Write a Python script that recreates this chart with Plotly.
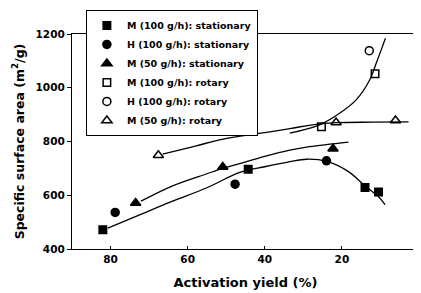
import plotly.graph_objects as go

# ---- data ----
m100_stat_x = [82.0, 44.3, 14.0, 10.5]
m100_stat_y = [472, 697, 629, 612]
h100_stat_x = [78.8, 47.7, 24.0]
h100_stat_y = [536, 641, 728]
m50_stat_x = [73.5, 50.9, 22.3]
m50_stat_y = [571, 705, 773]
m100_rot_x = [25.3, 11.4]
m100_rot_y = [855, 1052]
h100_rot_x = [12.9]
h100_rot_y = [1138]
m50_rot_x = [67.6, 21.5, 6.1]
m50_rot_y = [749, 871, 878]

# fitted curves
fit_low_x = [80.7, 72.0, 63.9, 55.0, 46.5, 40.0, 33.7, 29.2, 23.9, 18.3, 14.0, 10.6, 8.8]
fit_low_y = [478, 530, 578, 628, 685, 706, 724, 734, 726, 688, 635, 596, 565]
fit_mid_x = [72.1, 63.9, 55.0, 50.9, 46.5, 40.0, 33.5, 28.4, 18.3]
fit_mid_y = [578, 635, 680, 700, 718, 745, 768, 781, 798]
fit_rot50_x = [66.5, 58.0, 50.8, 40.0, 33.5, 26.7, 21.5, 12.0, 2.7]
fit_rot50_y = [753, 783, 809, 833, 848, 864, 870, 872, 873]
fit_rot100_x = [33.5, 25.8, 20.6, 16.3, 12.8, 11.1, 9.8, 8.7]
fit_rot100_y = [831, 862, 905, 955, 1029, 1091, 1141, 1184]

x_ticks = [0, 20, 40, 60, 80]
y_ticks = [400, 600, 800, 1000, 1200]

FONT = "DejaVu Sans"
fig = go.Figure()

for cx, cy in [(fit_low_x, fit_low_y), (fit_mid_x, fit_mid_y),
               (fit_rot50_x, fit_rot50_y), (fit_rot100_x, fit_rot100_y)]:
    fig.add_trace(go.Scatter(x=cx, y=cy, mode="lines",
                             line=dict(color="black", width=1.3, shape="spline", smoothing=1.0),
                             showlegend=False, hoverinfo="skip"))

series = [
    ("M (100 g/h): stationary", m100_stat_x, m100_stat_y, "square", 7.5),
    ("H (100 g/h): stationary", h100_stat_x, h100_stat_y, "circle", 8),
    ("M (50 g/h): stationary", m50_stat_x, m50_stat_y, "triangle-up", 9),
    ("M (100 g/h): rotary", m100_rot_x, m100_rot_y, "square-open", 7.5),
    ("H (100 g/h): rotary", h100_rot_x, h100_rot_y, "circle-open", 8),
    ("M (50 g/h): rotary", m50_rot_x, m50_rot_y, "triangle-up-open", 9),
]
for name, sx, sy, sym, sz in series:
    fig.add_trace(go.Scatter(x=sx, y=sy, mode="markers", name=name,
                             marker=dict(symbol=sym, size=sz, color="black",
                                         line=dict(color="black", width=1.5))))

# the page body has an 8px default margin, so the figure is sized/offset to compensate
fig.update_layout(
    width=413, height=285,
    margin=dict(l=64, r=2, t=26, b=44),
    paper_bgcolor="white", plot_bgcolor="white",
    font=dict(family=FONT, color="black", size=10, weight="bold"),
    showlegend=True,
    legend=dict(x=0.040, y=1.112, xanchor="left", yanchor="top",
                bgcolor="white", bordercolor="black", borderwidth=1,
                font=dict(family=FONT, size=9.5, weight="bold"),
                itemwidth=30, tracegroupgap=0),
    xaxis=dict(range=[90, 0], tickvals=x_ticks, ticktext=[str(v) for v in x_ticks],
               showline=True, linecolor="black", linewidth=1.3, mirror=True,
               ticks="inside", ticklen=3, tickcolor="black", showgrid=False, zeroline=False,
               tickfont=dict(family=FONT, size=10.5, weight="bold"),
               automargin=False,
               title=dict(text="Activation yield (%)", standoff=14,
                          font=dict(family=FONT, size=13, weight="bold"))),
    yaxis=dict(range=[400, 1200], tickvals=y_ticks, ticktext=[str(v) for v in y_ticks],
               showline=True, linecolor="black", linewidth=1.3, mirror=True,
               ticks="outside", ticklen=4, tickcolor="black", showgrid=False, zeroline=False,
               tickfont=dict(family=FONT, size=10.5, weight="bold"),
               automargin=False,
               title=dict(text="Specific surface area (m<sup>2</sup>/g)", standoff=8,
                          font=dict(family=FONT, size=12.5, weight="bold"))),
)

fig.write_html("out.html")
